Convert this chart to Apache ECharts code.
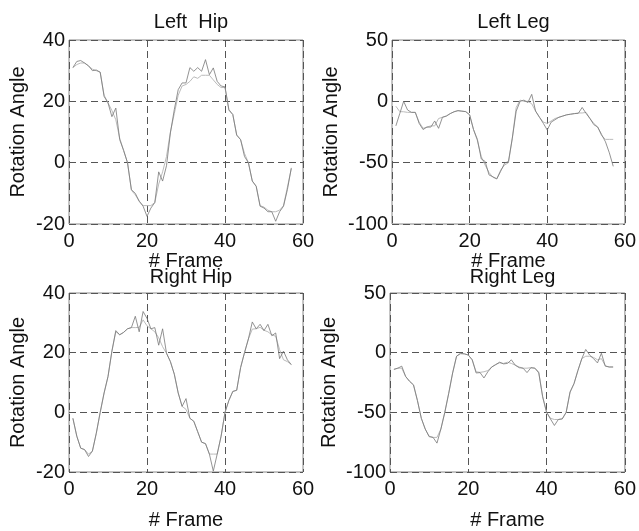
<!DOCTYPE html>
<html>
<head>
<meta charset="utf-8">
<script src="https://cdn.jsdelivr.net/npm/echarts@6/dist/echarts.min.js"></script>
<style>html,body{margin:0;padding:0;background:#fff}#c{width:639px;height:531px}</style>
</head>
<body>
<div id="c"></div>
<script>
const frames = [1,2,3,4,5,6,7,8,9,10,11,12,13,14,15,16,17,18,19,20,21,22,23,24,25,26,27,28,29,30,31,32,33,34,35,36,37,38,39,40,41,42,43,44,45,46,47,48,49,50,51,52,53,54,55,56,57];
const xTicks = [0,20,40,60];
const hipTicks = [-20,0,20,40];
const legTicks = [-100,-50,0,50];
const titles = ['Left  Hip','Left Leg','Right Hip','Right Leg'];

// measured (jagged, darker) and estimated (smooth, lighter)
const leftHipMeasured = [31,33,33.3,32.5,31.6,30,30.2,29.5,21.6,19.5,15,17.8,7.5,4,0,-8.8,-10,-12.6,-14.2,-17.5,-14.8,-13,-3,-6,-1,9.7,17.3,23.8,26,26,31,29.8,31,29.8,33.6,28.7,30.9,26.5,25,24.7,17.3,15.7,9,7.5,2,0,-6,-7.7,-14.2,-14.8,-16,-16,-19.1,-16,-14.2,-8.8,-1.7];
const leftHipEstimated = [31,32,32.5,32.5,31.5,30.5,30,29.5,22,19.5,17,14,8,4,0,-9,-10.5,-12.5,-14,-14,-14,-13,-7,-3,2,10,16,22,25,25.5,26.5,28,27.5,28.5,28.5,28.5,27,25.5,24.5,24.5,17,15.7,9,7.5,3,0,-6,-7.7,-14,-14.5,-15.5,-16,-16,-15.5,-14,-8,-2];

const leftLegMeasured = [-20,-10,0,-7,-9,-9,-18,-23,-21,-21,-16,-22,-13,-12,-10,-8.5,-7.6,-8,-8.4,-11,-23,-31,-47,-49,-60,-61.5,-63.3,-57,-50.5,-49,-30,-8,0,1,-1,5.7,-8,-13,-18,-23.4,-17,-15,-13,-12,-11,-10.5,-10,-9.8,-5,-9.8,-14,-19,-21,-27,-33,-42,-53];
const leftLegEstimated = [-4,-8.4,-8.5,-9,-9,-9,-17,-22,-21,-20,-20,-14,-13,-12,-10,-8.5,-7.6,-8,-8.4,-11,-23,-32,-45,-52,-58,-62,-63,-56,-52,-50,-30,-5,1,0,0,-2,-8,-13,-17,-18,-16,-14,-13,-12,-11,-10.5,-10,-9.5,-9.5,-9,-14,-18,-21,-28,-31,-31,-31];

const rightHipMeasured = [-2,-8,-12,-12.5,-14.8,-13,-7,0,6.5,12,20.5,27.4,26,26.8,28,28.4,32.2,27,33.8,31.5,28,28.4,22.5,28,19.8,17,12.8,6.5,2,4.6,-2,-3,-6.5,-10,-10.5,-14,-19.7,-14,-8,0,4,7,7.4,15,20,24.6,30.3,28,29.5,27.4,29.5,25.7,26.6,18,20.5,17.6,16];
const rightHipEstimated = [-2,-8,-12,-12.5,-14,-13,-7,0,6.5,12,20.5,27,26,26.8,28,28.4,28.4,28.5,31,29,28,27,25,22,19.8,17,12.8,6.5,2,1,-2,-3,-6.5,-10,-10.5,-14,-14,-14,-8,0,4,7,7.4,15,20,24.6,27.9,28,28.5,27.5,27,26,25.5,21,17.6,17,16];

const rightLegMeasured = [-14,-13,-11.3,-20,-24,-27,-40,-55,-64,-70.4,-71,-75.8,-64,-50,-34,-17,-3,-0.5,-1,-2,-6,-17,-16.7,-21.2,-16,-12,-10,-8,-9.4,-9,-6,-10.5,-12.6,-13,-16.7,-12.6,-13,-17,-37,-50,-55.6,-61,-56,-55.5,-50,-33,-26,-15,-5,2.7,-2,-5,-8.6,-0.5,-11.3,-12,-12];
const rightLegEstimated = [-14,-13,-13,-20,-24,-27,-40,-55,-64,-70,-71,-71,-64,-50,-34,-17,-3,-1,-1,-2,-6,-16,-16.5,-16,-15,-12,-10,-8.5,-9,-8,-9,-10.5,-12,-13,-13,-12.6,-13,-16,-37,-50,-55,-56,-56,-55.5,-50,-33,-26,-15,-5,-3,-3,-4,-6,-5,-11,-12,-12];

const panels = [
  {m: leftHipMeasured, e: leftHipEstimated, yt: hipTicks},
  {m: leftLegMeasured, e: leftLegEstimated, yt: legTicks},
  {m: rightHipMeasured, e: rightHipEstimated, yt: hipTicks},
  {m: rightLegMeasured, e: rightLegEstimated, yt: legTicks}
];
const grids = [
  {left: 69, top: 40, width: 234, height: 184},
  {left: 392, top: 40, width: 233, height: 184},
  {left: 69, top: 293, width: 234, height: 186},
  {left: 390, top: 293, width: 235, height: 186}
];
const titleTops = [7, 7, 262, 262];
const FONT = 'Liberation Sans, Arial, Helvetica, sans-serif';
const dash = {color: '#555', type: [7, 4], width: 1};

const option = {
  backgroundColor: '#fff',
  animation: false,
  title: titles.map((t, i) => ({
    text: t,
    left: grids[i].left + grids[i].width / 2,
    top: titleTops[i],
    textAlign: 'center',
    textStyle: {fontFamily: FONT, fontSize: 20, fontWeight: 'normal', color: '#111'}
  })),
  grid: grids.map(g => Object.assign({show: true, borderColor: '#888', borderWidth: 1, backgroundColor: '#fff'}, g)),
  xAxis: grids.map((g, i) => ({
    type: 'value', gridIndex: i,
    min: xTicks[0], max: xTicks[xTicks.length - 1], interval: xTicks[1] - xTicks[0],
    name: '# Frame', nameLocation: 'middle', nameGap: i < 2 ? 26 : 38,
    nameTextStyle: {fontFamily: FONT, fontSize: 20, color: '#111'},
    axisLine: {show: false}, axisTick: {show: false},
    axisLabel: {fontFamily: FONT, fontSize: 20, color: '#111', margin: 7},
    splitLine: {show: true, lineStyle: dash}
  })),
  yAxis: panels.map((p, i) => ({
    type: 'value', gridIndex: i,
    min: p.yt[0], max: p.yt[p.yt.length - 1], interval: p.yt[1] - p.yt[0],
    name: 'Rotation Angle', nameLocation: 'middle', nameGap: (i % 2 === 0) ? 41 : 51,
    nameTextStyle: {fontFamily: FONT, fontSize: 20, color: '#111'},
    axisLine: {show: false}, axisTick: {show: false},
    axisLabel: {fontFamily: FONT, fontSize: 20, color: '#111', margin: 4},
    splitLine: {show: true, lineStyle: dash}
  })),
  series: []
};
panels.forEach((p, i) => {
  option.series.push({
    type: 'line', xAxisIndex: i, yAxisIndex: i, symbol: 'none',
    lineStyle: {color: '#bbb', width: 1}, z: 2,
    data: frames.map((f, k) => [f, p.e[k]])
  });
  option.series.push({
    type: 'line', xAxisIndex: i, yAxisIndex: i, symbol: 'none',
    lineStyle: {color: '#777', width: 0.8}, z: 3,
    data: frames.map((f, k) => [f, p.m[k]])
  });
});
const chart = echarts.init(document.getElementById('c'), null, {renderer: 'canvas'});
chart.setOption(option);
</script>
</body>
</html>
